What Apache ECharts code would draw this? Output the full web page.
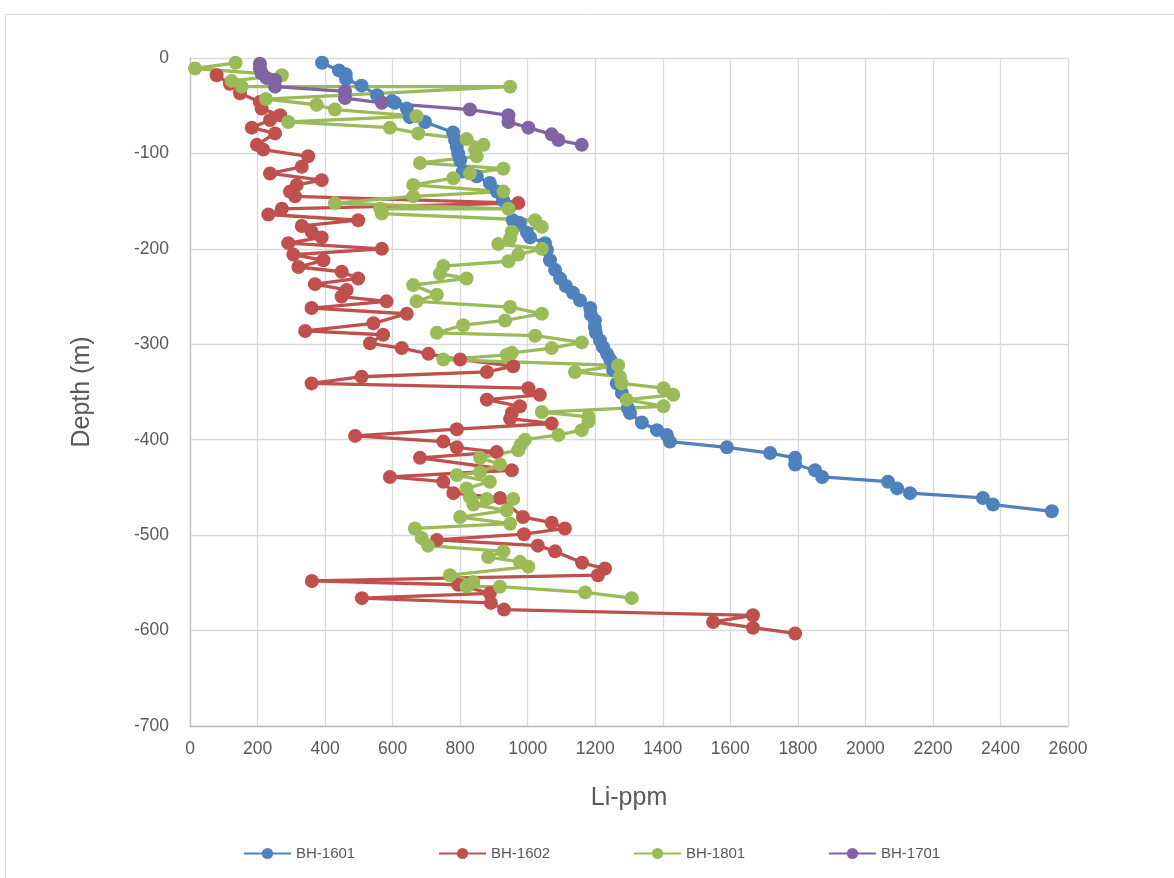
<!DOCTYPE html>
<html>
<head>
<meta charset="utf-8">
<script src="https://cdn.jsdelivr.net/npm/echarts@6/dist/echarts.min.js"></script>
<style>
html,body{margin:0;padding:0;background:#fff;}
#chart{width:1174px;height:878px;}
</style>
</head>
<body>
<div id="chart"></div>
<script>
// ---- data ----
const seriesNames = ['BH-1601', 'BH-1602', 'BH-1801', 'BH-1701'];

const bh1601_li = [391,441,461,462,508,554,598,607,642,651,696,779,785,790,794,800,808,849,888,909,927,948,956,977,998,1007,1051,1057,1066,1081,1096,1113,1134,1155,1185,1187,1199,1199,1202,1214,1223,1235,1244,1253,1264,1279,1297,1303,1338,1383,1412,1421,1590,1718,1792,1792,1851,1872,2067,2094,2132,2348,2378,2552];
const bh1601_depth = [-5,-13,-17,-22,-29,-39,-45,-47,-53,-62,-67,-78,-86,-93,-100,-107,-119,-124,-131,-140,-149,-156,-170,-173,-183,-188,-194,-201,-212,-222,-231,-239,-246,-254,-262,-269,-275,-282,-288,-296,-303,-310,-316,-327,-341,-351,-367,-372,-382,-390,-395,-402,-408,-414,-419,-426,-432,-439,-444,-451,-456,-461,-468,-475];

const bh1602_li = [79,118,148,207,212,267,237,183,252,198,217,350,331,237,390,316,296,311,972,272,232,498,331,360,390,291,568,306,395,321,449,498,370,464,449,582,360,642,543,341,572,533,627,706,800,957,879,508,360,1002,1036,879,977,953,948,1071,790,489,750,790,908,681,953,592,750,780,918,986,1071,1110,989,731,1030,1081,1161,1229,1208,361,794,888,509,891,930,1667,1549,1667,1792];
const bh1602_depth = [-18,-27,-37,-46,-53,-60,-65,-73,-79,-91,-96,-103,-114,-121,-128,-133,-140,-145,-152,-158,-164,-170,-176,-182,-188,-194,-200,-206,-212,-219,-224,-231,-237,-243,-250,-255,-262,-268,-278,-286,-290,-299,-304,-310,-316,-323,-329,-334,-341,-346,-353,-358,-365,-372,-378,-383,-389,-396,-402,-408,-413,-419,-432,-439,-444,-456,-461,-481,-487,-493,-499,-505,-511,-517,-529,-535,-542,-548,-552,-561,-566,-571,-578,-584,-591,-597,-603];

const bh1801_li = [135,15,272,123,153,948,225,375,429,671,291,592,676,819,869,844,849,681,928,829,780,661,928,661,429,943,563,568,1022,1042,953,948,913,1042,972,943,750,740,819,661,731,671,948,1042,933,809,731,1022,1160,1071,953,938,750,1268,1140,1273,1278,1402,1431,1293,1402,1042,1180,1180,1160,1091,992,980,972,859,918,859,790,888,819,829,879,957,839,938,800,948,666,686,705,928,883,977,1002,770,839,819,918,1170,1308];
const bh1801_depth = [-5,-11,-18,-24,-30,-30,-43,-49,-54,-61,-67,-73,-79,-85,-91,-96,-103,-110,-116,-121,-126,-133,-140,-145,-152,-158,-158,-163,-170,-177,-182,-189,-195,-200,-206,-213,-218,-226,-231,-238,-248,-255,-261,-268,-275,-280,-288,-291,-298,-304,-309,-311,-316,-322,-329,-334,-341,-346,-353,-358,-365,-371,-376,-381,-390,-395,-400,-405,-411,-419,-426,-434,-437,-444,-451,-460,-462,-462,-468,-474,-481,-488,-493,-503,-511,-517,-523,-528,-533,-542,-549,-554,-554,-560,-566];

const bh1701_li = [207,207,212,227,252,252,459,459,568,829,943,943,1002,1071,1091,1160];
const bh1701_depth = [-6,-11,-16,-21,-23,-30,-35,-42,-47,-54,-60,-67,-73,-80,-86,-91];

const xTicks = {min: 0, max: 2600, interval: 200};
const yTicks = {min: -700, max: 0, interval: 100};
const xAxisTitle = 'Li-ppm';
const yAxisTitle = 'Depth (m)';

// ---- build ----
const FONT = '"Liberation Sans", Arial, sans-serif';
const colors = ['#4F81BD', '#C0504D', '#9BBB59', '#8064A2'];
const pairs = (xs, ys) => xs.map((v, i) => [v, ys[i]]);
const allData = [
  pairs(bh1601_li, bh1601_depth),
  pairs(bh1602_li, bh1602_depth),
  pairs(bh1801_li, bh1801_depth),
  pairs(bh1701_li, bh1701_depth)
];

const legendLefts = [238, 433, 628, 823];

const chart = echarts.init(document.getElementById('chart'), null, {renderer: 'canvas'});
chart.setOption({
  animation: false,
  backgroundColor: '#ffffff',
  color: colors,
  textStyle: {fontFamily: FONT},
  graphic: [{
    type: 'rect', left: 3, top: 12, z: -10,
    shape: {width: 1200, height: 900},
    style: {fill: 'none', stroke: '#d9d9d9', lineWidth: 1}
  }],
  grid: {left: 190, right: 106, top: 58, bottom: 152, containLabel: false},
  legend: seriesNames.map((n, i) => ({
    data: [n], left: legendLefts[i], top: 841,
    itemWidth: 47, itemHeight: 14, itemGap: 6,
    textStyle: {fontSize: 15, color: '#595959', fontFamily: FONT}
  })),
  xAxis: {
    type: 'value', min: xTicks.min, max: xTicks.max, interval: xTicks.interval,
    position: 'bottom',
    axisLine: {show: true, onZero: false, lineStyle: {color: '#bfbfbf', width: 1.3}},
    axisTick: {show: false},
    splitLine: {show: true, lineStyle: {color: '#d9d9d9', width: 1.3}},
    axisLabel: {color: '#595959', fontSize: 17.5, margin: 14, fontFamily: FONT,
      formatter: v => String(v)},
    name: xAxisTitle, nameLocation: 'middle', nameGap: 60,
    nameTextStyle: {fontSize: 25, color: '#595959', fontFamily: FONT}
  },
  yAxis: {
    type: 'value', min: yTicks.min, max: yTicks.max, interval: yTicks.interval,
    axisLine: {show: true, onZero: false, lineStyle: {color: '#bfbfbf', width: 1.3}},
    axisTick: {show: false},
    splitLine: {show: true, lineStyle: {color: '#d9d9d9', width: 1.3}},
    axisLabel: {color: '#595959', fontSize: 17.5, margin: 21, fontFamily: FONT,
      formatter: v => String(v)},
    name: yAxisTitle, nameLocation: 'middle', nameGap: 95, nameRotate: 90,
    nameTextStyle: {fontSize: 25, color: '#595959', fontFamily: FONT}
  },
  series: seriesNames.map((n, i) => ({
    name: n, type: 'line', data: allData[i],
    symbol: 'circle', symbolSize: 14, showAllSymbol: true,
    lineStyle: {width: 3.3, color: colors[i]},
    itemStyle: {color: colors[i]},
    emphasis: {disabled: true}
  }))
});
</script>
</body>
</html>
